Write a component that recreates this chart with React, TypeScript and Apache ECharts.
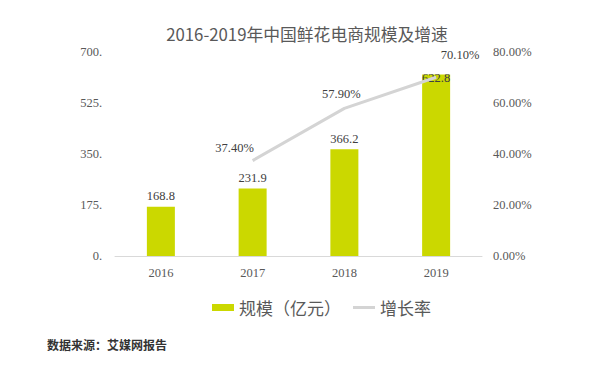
import React, { useEffect, useRef } from "react";
import * as echarts from "echarts";

const categories = ["2016", "2017", "2018", "2019"];
const scaleValues = [168.8, 231.9, 366.2, 622.8];
const growthValues = [null, 37.4, 57.9, 70.1];
const leftTicks = [0, 175, 350, 525, 700];
const rightTicks = [0, 20, 40, 60, 80];

const serif = "'Liberation Serif', 'DejaVu Serif', serif";
const cjk = "'Noto Sans CJK SC', 'Noto Sans', sans-serif";

export default function App() {
  const ref = useRef<HTMLDivElement>(null);
  useEffect(() => {
    if (!ref.current) return;
    const chart = echarts.init(ref.current, undefined, { renderer: "svg" });
    const barLabelOffsets = [[0, 0], [0, 0], [0, 0], [0, 14]];
    const lineLabelOffsets = [[0, 0], [-18, 0], [-3, -2], [24, -10]];
    chart.setOption({
      animation: false,
      backgroundColor: "#ffffff",
      title: {
        text: "2016-2019年中国鲜花电商规模及增速",
        left: 302,
        top: 21,
        textAlign: "center",
        textStyle: { fontFamily: cjk, fontSize: 16.8, fontWeight: "normal", color: "#595959" },
      },
      legend: {
        left: 207,
        top: 294,
        itemGap: 12,
        itemWidth: 22,
        itemHeight: 7,
        textStyle: { fontFamily: cjk, fontSize: 17, color: "#595959" },
        data: [
          { name: "规模（亿元）", icon: "rect" },
          { name: "增长率", icon: "path://M0,0H22V3H0Z" },
        ],
      },
      graphic: [
        {
          type: "text",
          left: 47,
          top: 338,
          style: {
            text: "数据来源：艾媒网报告",
            font: "bold 12px " + cjk,
            fill: "#333333",
          },
        },
      ],
      grid: { left: 115, right: 118, top: 52, bottom: 130, containLabel: false },
      xAxis: {
        type: "category",
        data: categories,
        axisLine: { show: true, lineStyle: { color: "#d9d9d9", width: 1 } },
        axisTick: { show: false },
        axisLabel: { fontFamily: serif, fontSize: 12.5, color: "#595959", margin: 10 },
      },
      yAxis: [
        {
          type: "value",
          min: leftTicks[0],
          max: leftTicks[leftTicks.length - 1],
          interval: leftTicks[1] - leftTicks[0],
          splitLine: { show: false },
          axisLine: { show: false },
          axisTick: { show: false },
          axisLabel: {
            fontFamily: serif,
            fontSize: 12.5,
            color: "#595959",
            margin: 13,
            formatter: (v: number) => v + ".",
          },
        },
        {
          type: "value",
          min: rightTicks[0],
          max: rightTicks[rightTicks.length - 1],
          interval: rightTicks[1] - rightTicks[0],
          splitLine: { show: false },
          axisLine: { show: false },
          axisTick: { show: false },
          axisLabel: {
            fontFamily: serif,
            fontSize: 12.5,
            color: "#595959",
            margin: 11,
            formatter: (v: number) => v.toFixed(2) + "%",
          },
        },
      ],
      series: [
        {
          name: "规模（亿元）",
          type: "bar",
          barWidth: 28,
          itemStyle: { color: "#cbd800" },
          data: scaleValues.map((v, i) => ({
            value: v,
            label: { offset: barLabelOffsets[i] },
          })),
          label: {
            show: true,
            position: "top",
            distance: 4,
            fontFamily: serif,
            fontSize: 12.5,
            color: "#404040",
            formatter: (p: any) => Number(p.value).toFixed(1),
          },
        },
        {
          name: "增长率",
          type: "line",
          yAxisIndex: 1,
          symbol: "circle",
          symbolSize: 0,
          showSymbol: true,
          lineStyle: { color: "#d4d4d4", width: 3 },
          itemStyle: { color: "#d4d4d4" },
          data: growthValues.map((v, i) =>
            v === null ? "-" : { value: v, label: { offset: lineLabelOffsets[i] } }
          ),
          label: {
            show: true,
            position: "top",
            distance: 6,
            fontFamily: serif,
            fontSize: 12.5,
            color: "#404040",
            formatter: (p: any) => Number(p.value).toFixed(2) + "%",
          },
        },
      ],
    });
    return () => chart.dispose();
  }, []);
  return <div ref={ref} style={{ width: 600, height: 386, position: "absolute", left: 0, top: 0 }} />;
}
